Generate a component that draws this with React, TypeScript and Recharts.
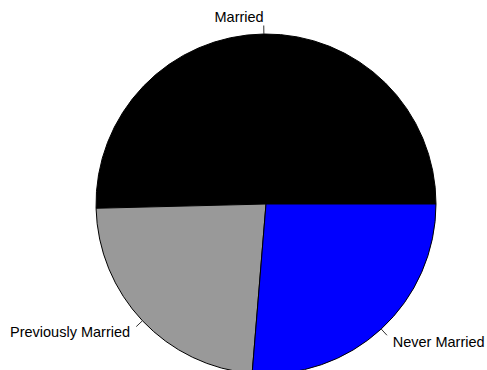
import { PieChart, Pie, Cell } from 'recharts';

// slice shares in percent (R pie, counter-clockwise from 3 o'clock)
const categories = ['Married', 'Previously Married', 'Never Married'];
const shares = [50.4, 23.3, 26.3];
const colors = ['#000000', '#999999', '#0000ff'];

const data = categories.map((name, i) => ({ name, value: shares[i] }));

const RADIAN = Math.PI / 180;

const renderLabel = (props: any) => {
    const { cx, cy, midAngle, outerRadius, name } = props;
    const cos = Math.cos(-midAngle * RADIAN);
    const sin = Math.sin(-midAngle * RADIAN);
    // tick from r to 1.05r, text at 1.1r like base R
    const x1 = cx + outerRadius * cos;
    const y1 = cy + outerRadius * sin;
    const x2 = cx + outerRadius * 1.05 * cos;
    const y2 = cy + outerRadius * 1.05 * sin;
    const tx = cx + outerRadius * 1.1 * cos;
    const ty = cy + outerRadius * 1.1 * sin;
    return (
        <g>
            <line x1={x1} y1={y1} x2={x2} y2={y2} stroke="#333" strokeWidth={1} />
            <text
                x={tx}
                y={ty}
                textAnchor={cos < 0 ? 'end' : 'start'}
                dominantBaseline="central"
                fill="#000"
                fontSize={14.5}
                fontFamily="'Liberation Sans', Arial, sans-serif"
            >
                {name}
            </text>
        </g>
    );
};

export default function App() {
    return (
        <div style={{ width: 487, height: 370, background: '#fff' }}>
            <style>{'html, body { margin: 0; padding: 0; overflow: hidden; }'}</style>
            <PieChart width={487} height={370} margin={{ top: 0, right: 0, bottom: 0, left: 0 }}>
                <Pie
                    data={data}
                    dataKey="value"
                    nameKey="name"
                    cx={266}
                    cy={204}
                    outerRadius={170}
                    startAngle={0}
                    endAngle={360}
                    stroke="#000"
                    strokeWidth={1}
                    label={renderLabel}
                    labelLine={false}
                    isAnimationActive={false}
                >
                    {data.map((d, i) => (
                        <Cell key={d.name} fill={colors[i]} />
                    ))}
                </Pie>
            </PieChart>
        </div>
    );
}
